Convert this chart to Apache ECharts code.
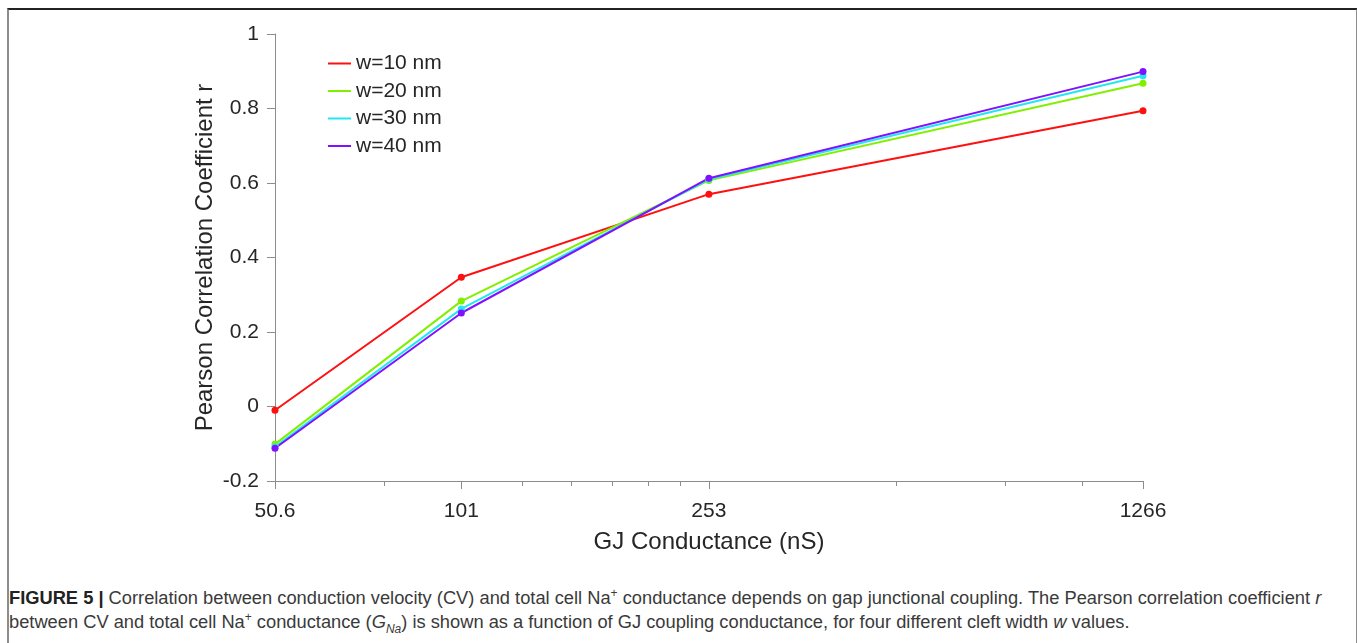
<!DOCTYPE html>
<html>
<head>
<meta charset="utf-8">
<script src="https://cdn.jsdelivr.net/npm/echarts@6/dist/echarts.min.js"></script>
<style>
  html, body { margin: 0; padding: 0; background: #fff; }
  #frame {
    position: absolute; left: 7px; top: 8px; width: 1347px; height: 660px;
    border-top: 2px solid #222; border-left: 2px solid #8c8c8c; border-right: 2px solid #8c8c8c;
  }
  #echart_line { position: absolute; left: 0; top: 0; width: 1357px; height: 565px; }
  #caption {
    position: absolute; left: 9px; top: 586px; white-space: nowrap;
    font-family: 'Liberation Sans', Arial, sans-serif; font-size: 18.3px; line-height: 24px; color: #3a3a3a;
  }
  #caption b { color: #222; }
  #caption sup, #caption sub { font-size: 12px; line-height: 0; }
</style>
</head>
<body>
<div id="frame"></div>
<div id="echart_line"></div>
<div id="caption">
  <b>FIGURE 5 |</b> Correlation between conduction velocity (CV) and total cell Na<sup>+</sup> conductance depends on gap junctional coupling. The Pearson correlation coefficient <i>r</i><br>
  between CV and total cell Na<sup>+</sup> conductance (<i>G<sub>Na</sub></i>) is shown as a function of GJ coupling conductance, for four different cleft width <i>w</i> values.
</div>
<script>
// GJ conductance (nS), x positions
var conductance = [50.6, 101, 253, 1266]
// tick labels on x axis
var tickLabels = [50.6, 101, 253, 1266]
// minor ticks (log axis)
var minorTicks = [75.9, 126.5, 151.8, 177.1, 202.4, 227.7, 506, 759, 1012]

var seriesNames = ['w=10 nm', 'w=20 nm', 'w=30 nm', 'w=40 nm']
var w10 = [-0.01, 0.347, 0.570, 0.794]
var w20 = [-0.101, 0.283, 0.607, 0.868]
var w30 = [-0.108, 0.262, 0.610, 0.888]
var w40 = [-0.112, 0.251, 0.613, 0.899]
var colors = ['#ff1010', '#80f000', '#20e8f0', '#8010ff']

;(function () {
  var font = "'Liberation Sans', Arial, sans-serif"
  var lg = function (v) { return Math.log10(v) }
  var xMin = lg(conductance[0])
  var xMax = lg(conductance[conductance.length - 1])

  var myChart = echarts.init(document.getElementById('echart_line'))

  var makeSeries = function (name, values, color) {
    return {
      name: name,
      type: 'line',
      xAxisIndex: 0,
      symbol: 'circle',
      symbolSize: 7,
      lineStyle: { width: 2, color: color },
      itemStyle: { color: color },
      data: conductance.map(function (c, i) { return [lg(c), values[i]] }),
    }
  }

  var option = {
    animation: false,
    textStyle: { fontFamily: font },
    grid: { left: 275, right: 214, top: 34, bottom: 84 },
    legend: {
      orient: 'vertical',
      left: 323,
      top: 48,
      icon: 'rect',
      itemWidth: 23,
      itemHeight: 2,
      itemGap: 6.5,
      data: seriesNames,
      textStyle: { color: '#262626', fontSize: 21, fontFamily: font, lineHeight: 21 },
    },
    xAxis: [
      {
        type: 'value',
        min: xMin,
        max: xMax,
        name: 'GJ Conductance (nS)',
        nameLocation: 'middle',
        nameGap: 49,
        nameMoveOverlap: false,
        nameTextStyle: { color: '#262626', fontSize: 24, fontFamily: font },
        axisLine: { show: true, onZero: false, lineStyle: { color: '#8c8c8c', width: 1 } },
        axisTick: {
          show: true, inside: false, length: 8,
          customValues: tickLabels.map(lg),
          lineStyle: { color: '#8c8c8c' },
        },
        axisLabel: {
          color: '#262626', fontSize: 21, margin: 20, fontFamily: font,
          customValues: tickLabels.map(lg),
          formatter: function (v) {
            var raw = Math.pow(10, v)
            var best = tickLabels[0]
            tickLabels.forEach(function (t) { if (Math.abs(t - raw) < Math.abs(best - raw)) best = t })
            return String(best)
          },
        },
        splitLine: { show: false },
      },
      {
        type: 'value',
        min: xMin,
        max: xMax,
        position: 'bottom',
        axisLine: { show: false, onZero: false },
        axisTick: {
          show: true, inside: false, length: 5,
          customValues: minorTicks.map(lg),
          lineStyle: { color: '#8c8c8c' },
        },
        axisLabel: { show: false },
        splitLine: { show: false },
      },
    ],
    yAxis: {
      type: 'value',
      min: -0.2,
      max: 1,
      interval: 0.2,
      name: 'Pearson Correlation Coefficient r',
      nameLocation: 'middle',
      nameGap: 58,
      nameMoveOverlap: false,
      nameTextStyle: { color: '#262626', fontSize: 24, fontFamily: font },
      axisLine: { show: true, lineStyle: { color: '#8c8c8c', width: 1 } },
      axisTick: { show: true, inside: false, length: 8, lineStyle: { color: '#8c8c8c' } },
      axisLabel: { color: '#262626', fontSize: 21, margin: 16, fontFamily: font },
      splitLine: { show: false },
    },
    series: [
      makeSeries(seriesNames[0], w10, colors[0]),
      makeSeries(seriesNames[1], w20, colors[1]),
      makeSeries(seriesNames[2], w30, colors[2]),
      makeSeries(seriesNames[3], w40, colors[3]),
    ],
  }
  myChart.setOption(option)
})()
</script>
</body>
</html>
